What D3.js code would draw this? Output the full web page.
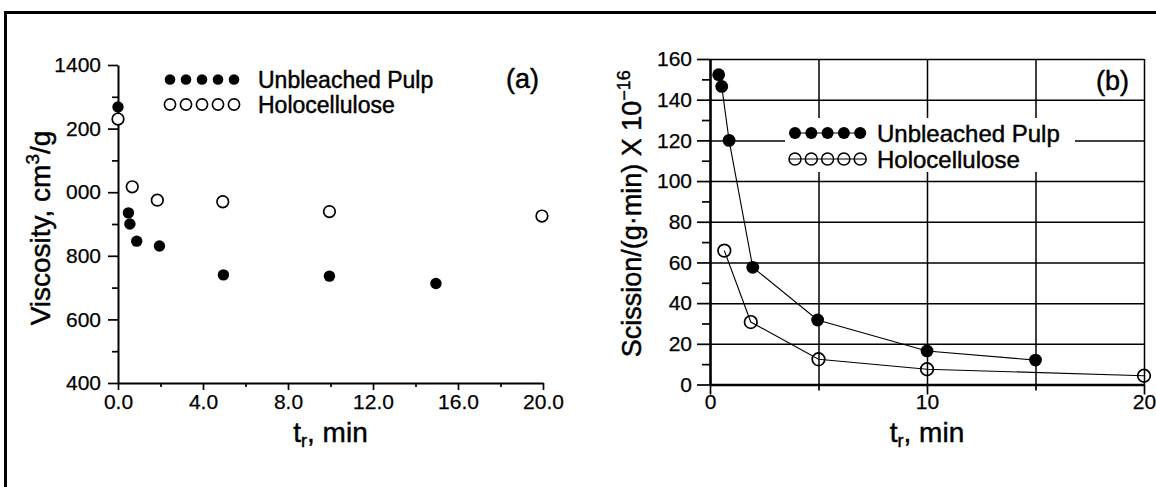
<!DOCTYPE html>
<html>
<head>
<meta charset="utf-8">
<script src="https://cdn.jsdelivr.net/npm/d3@7"></script>
<style>
  html, body { margin: 0; padding: 0; background: #fff; }
  svg { display: block; font-family: "Liberation Sans", Arial, Helvetica, sans-serif; }
  .tick text { font-family: "Liberation Sans", Arial, sans-serif; stroke: #000; stroke-width: 0.25px; }
  .lbl { stroke: #000; stroke-width: 0.45px; fill: #000; }
</style>
</head>
<body>
<script>
// ---------- Panel (a) data ----------
const aUnbleachedT = [0, 0.49, 0.56, 0.88, 1.95, 4.96, 9.95, 14.96];
const aUnbleachedV = [1268, 935, 900, 846, 831, 740, 736, 713];
const aHoloT = [0, 0.67, 1.85, 4.93, 9.95, 19.95];
const aHoloV = [1230, 1017, 975, 970, 939, 925];
const aYTicks = [400, 600, 800, 1000, 1200, 1400];
const aYTickLabels = ["400", "600", "800", "000", "200", "1400"];
const aYMinor = [500, 700, 900, 1100, 1300];
const aXTicks = [0, 4, 8, 12, 16, 20];
const aXTickLabels = ["0.0", "4.0", "8.0", "12.0", "16.0", "20.0"];
const aXMinor = [2, 6, 10, 14, 18];

// ---------- Panel (b) data ----------
const bUnbleachedT = [0.4, 0.54, 0.88, 1.97, 4.96, 10.0, 15.0];
const bUnbleachedS = [152.3, 146.5, 120, 57.6, 31.7, 16.5, 12];
const bHoloT = [0.66, 1.88, 5.0, 10.0, 20.0];
const bHoloS = [65.8, 30.7, 12.4, 7.5, 4.3];
const bYTicks = [0, 20, 40, 60, 80, 100, 120, 140, 160];
const bYMinor = [10, 30, 50, 70, 90, 110, 130, 150];
const bXGrid = [0, 5, 10, 15, 20];
const bXLabelTicks = [0, 10, 20];
const bXTickLabels = ["0", "10", "20"];
const bXMinor = [5, 15];

const legendLabels = ["Unbleached Pulp", "Holocellulose"];

const W = 1156, H = 487;
const svg = d3.select("body").append("svg").attr("width", W).attr("height", H);
svg.append("rect").attr("width", W).attr("height", H).attr("fill", "#fff");

// page frame (top and left)
svg.append("path").attr("d", `M5.5,${H} V12.5 H${W}`).attr("fill", "none")
  .attr("stroke", "#000").attr("stroke-width", 3);

const TICK_FS = 21;
function styleAxis(g, sw) {
  g.selectAll(".domain").attr("stroke", "#000").attr("stroke-width", sw);
  g.selectAll(".tick line").attr("stroke", "#000").attr("stroke-width", 1.7);
  g.selectAll(".tick text").attr("fill", "#000").attr("font-size", TICK_FS);
}

// ================= Panel (a) =================
const xA = d3.scaleLinear().domain([0, 20]).range([118, 543]);
const yA = d3.scaleLinear().domain([400, 1400]).range([383, 65]);

const gA = svg.append("g");
gA.append("g").attr("transform", `translate(${xA(0)},0)`)
  .call(d3.axisLeft(yA).tickValues(aYMinor).tickSize(6).tickFormat(""))
  .call(g => g.select(".domain").remove())
  .call(g => styleAxis(g, 2));
gA.append("g").attr("transform", `translate(${xA(0)},0)`)
  .call(d3.axisLeft(yA).tickValues(aYTicks).tickSize(10).tickSizeOuter(0).tickPadding(7)
    .tickFormat((d, i) => aYTickLabels[i]))
  .call(g => styleAxis(g, 2));
gA.append("g").attr("transform", `translate(0,${yA(400)})`)
  .call(d3.axisBottom(xA).tickValues(aXMinor).tickSize(4).tickFormat(""))
  .call(g => g.select(".domain").remove())
  .call(g => styleAxis(g, 2));
gA.append("g").attr("transform", `translate(0,${yA(400)})`)
  .call(d3.axisBottom(xA).tickValues(aXTicks).tickSize(7).tickSizeOuter(0).tickPadding(4)
    .tickFormat((d, i) => aXTickLabels[i]))
  .call(g => styleAxis(g, 2));

// points (a)
gA.selectAll("circle.ah").data(aHoloT.map((t, i) => [t, aHoloV[i]])).join("circle")
  .attr("cx", d => xA(d[0])).attr("cy", d => yA(d[1])).attr("r", 5.8)
  .attr("fill", "#fff").attr("stroke", "#000").attr("stroke-width", 1.7);
gA.selectAll("circle.au").data(aUnbleachedT.map((t, i) => [t, aUnbleachedV[i]])).join("circle")
  .attr("cx", d => xA(d[0])).attr("cy", d => yA(d[1])).attr("r", 5.7)
  .attr("fill", "#000");

// legend (a)
const legA = gA.append("g");
const legAX = [170, 186, 202, 218, 234];
legA.selectAll("circle.f").data(legAX).join("circle").attr("class", "f")
  .attr("cx", d => d).attr("cy", 79.5).attr("r", 5.3).attr("fill", "#000");
legA.selectAll("circle.o").data(legAX).join("circle").attr("class", "o")
  .attr("cx", d => d).attr("cy", 104.5).attr("r", 5.6).attr("fill", "none")
  .attr("stroke", "#000").attr("stroke-width", 1.6);
const legAT = legA.append("text").attr("class", "lbl").attr("font-size", 23);
legAT.append("tspan").attr("x", 258).attr("y", 87.5).text(legendLabels[0]);
legAT.append("tspan").attr("x", 258).attr("y", 112.5).text(legendLabels[1]);
gA.append("text").attr("class", "lbl").attr("x", 506).attr("y", 88).attr("font-size", 27).text("(a)");

// titles (a)
const xtA = gA.append("text").attr("class", "lbl").attr("x", xA(10)).attr("y", 442).attr("font-size", 28)
  .attr("text-anchor", "middle");
xtA.append("tspan").text("t");
xtA.append("tspan").attr("font-size", 18).attr("dy", 5).text("r");
xtA.append("tspan").attr("dy", -5).text(", min");

const ytA = gA.append("text").attr("class", "lbl")
  .attr("transform", `translate(50,${(yA(400) + yA(1400)) / 2 + 4}) rotate(-90)`)
  .attr("font-size", 28).attr("text-anchor", "middle");
ytA.append("tspan").text("Viscosity, cm");
ytA.append("tspan").attr("font-size", 19).attr("dy", -11).text("3");
ytA.append("tspan").attr("dy", 11).text("/g");

// ================= Panel (b) =================
const xB = d3.scaleLinear().domain([0, 20]).range([710, 1144]);
const yB = d3.scaleLinear().domain([0, 160]).range([384.5, 59]);
const gB = svg.append("g");

// grid
gB.append("g").attr("transform", `translate(${xB(0)},0)`)
  .call(d3.axisLeft(yB).tickValues(bYTicks).tickSize(-(xB(20) - xB(0))).tickFormat(""))
  .call(g => g.select(".domain").remove())
  .call(g => g.selectAll(".tick line").attr("stroke", "#000").attr("stroke-width", 1.5));
gB.append("g").attr("transform", `translate(0,${yB(0)})`)
  .call(d3.axisBottom(xB).tickValues(bXGrid).tickSize(-(yB(0) - yB(160))).tickFormat(""))
  .call(g => g.select(".domain").remove())
  .call(g => g.selectAll(".tick line").attr("stroke", "#000").attr("stroke-width", 1.5));

// axes
gB.append("g").attr("transform", `translate(${xB(0)},0)`)
  .call(d3.axisLeft(yB).tickValues(bYMinor).tickSize(8).tickFormat(""))
  .call(g => g.select(".domain").remove())
  .call(g => styleAxis(g, 2.5));
gB.append("g").attr("transform", `translate(${xB(0)},0)`)
  .call(d3.axisLeft(yB).tickValues(bYTicks).tickSize(13).tickSizeOuter(0).tickPadding(5))
  .call(g => styleAxis(g, 2.5));
gB.append("g").attr("transform", `translate(0,${yB(0)})`)
  .call(d3.axisBottom(xB).tickValues(bXMinor).tickSize(6).tickFormat(""))
  .call(g => g.select(".domain").remove())
  .call(g => styleAxis(g, 2.5));
gB.append("g").attr("transform", `translate(0,${yB(0)})`)
  .call(d3.axisBottom(xB).tickValues(bXLabelTicks).tickSize(10).tickSizeOuter(0).tickPadding(0)
    .tickFormat((d, i) => bXTickLabels[i]))
  .call(g => styleAxis(g, 2.5));

// lines
const lineB = d3.line().x(d => xB(d[0])).y(d => yB(d[1]));
const bU = bUnbleachedT.map((t, i) => [t, bUnbleachedS[i]]);
const bH = bHoloT.map((t, i) => [t, bHoloS[i]]);
gB.append("path").datum(bU).attr("d", lineB).attr("fill", "none").attr("stroke", "#000").attr("stroke-width", 1.1);
gB.append("path").datum(bH).attr("d", lineB).attr("fill", "none").attr("stroke", "#000").attr("stroke-width", 1.1);
gB.selectAll("circle.bh").data(bH).join("circle").attr("class", "bh")
  .attr("cx", d => xB(d[0])).attr("cy", d => yB(d[1])).attr("r", 6.3)
  .attr("fill", "none").attr("stroke", "#000").attr("stroke-width", 1.7);
gB.selectAll("circle.bu").data(bU).join("circle").attr("class", "bu")
  .attr("cx", d => xB(d[0])).attr("cy", d => yB(d[1])).attr("r", 6.4)
  .attr("fill", "#000");

// legend (b)
const legB = gB.append("g");
legB.append("rect").attr("x", 785).attr("y", 118).attr("width", 290).attr("height", 54).attr("fill", "#fff");
const legBX = [795, 811.3, 827.6, 843.9, 860.2];
legB.append("line").attr("x1", legBX[0]).attr("x2", legBX[4]).attr("y1", 133).attr("y2", 133)
  .attr("stroke", "#000").attr("stroke-width", 1.2);
legB.selectAll("circle.f").data(legBX).join("circle").attr("class", "f")
  .attr("cx", d => d).attr("cy", 133).attr("r", 6).attr("fill", "#000");
legB.append("line").attr("x1", legBX[0] - 6).attr("x2", legBX[4] + 6).attr("y1", 159).attr("y2", 159)
  .attr("stroke", "#000").attr("stroke-width", 1.2);
legB.selectAll("circle.o").data(legBX).join("circle").attr("class", "o")
  .attr("cx", d => d).attr("cy", 159).attr("r", 6).attr("fill", "none")
  .attr("stroke", "#000").attr("stroke-width", 1.5);
const legBT = legB.append("text").attr("class", "lbl").attr("font-size", 24);
legBT.append("tspan").attr("x", 877).attr("y", 141.5).text(legendLabels[0]);
legBT.append("tspan").attr("x", 877).attr("y", 167.5).text(legendLabels[1]);
gB.append("text").attr("class", "lbl").attr("x", 1096).attr("y", 90).attr("font-size", 27).text("(b)");

// titles (b)
const xtB = gB.append("text").attr("class", "lbl").attr("x", xB(10)).attr("y", 442).attr("font-size", 28)
  .attr("text-anchor", "middle");
xtB.append("tspan").text("t");
xtB.append("tspan").attr("font-size", 18).attr("dy", 5).text("r");
xtB.append("tspan").attr("dy", -5).text(", min");

const ytB = gB.append("text").attr("class", "lbl")
  .attr("transform", `translate(641,${(yB(0) + yB(160)) / 2 - 8}) rotate(-90)`)
  .attr("font-size", 27).attr("text-anchor", "middle");
ytB.append("tspan").text("Scission/(g\u00B7min) X 10");
ytB.append("tspan").attr("font-size", 18).attr("dy", -11).text("\u221216");
</script>
</body>
</html>
